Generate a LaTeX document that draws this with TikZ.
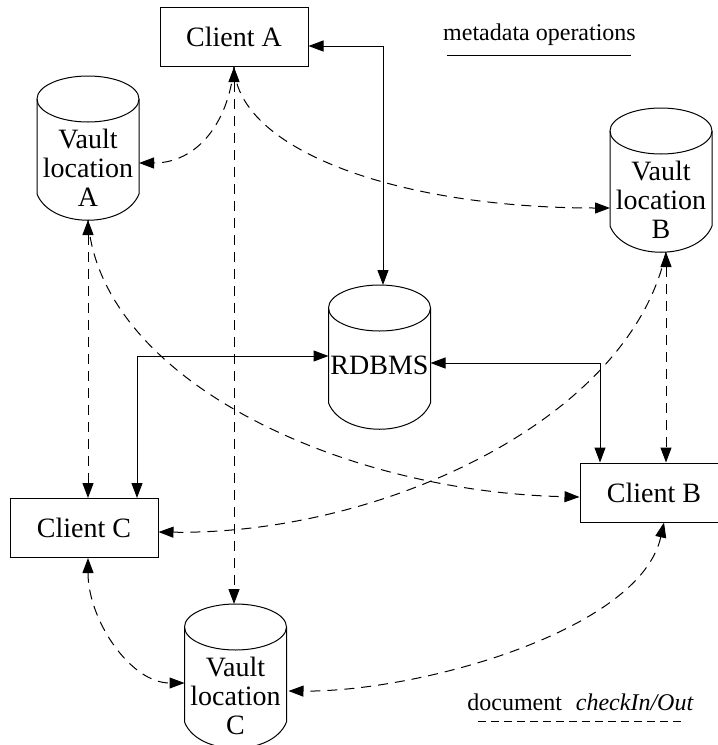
\documentclass[tikz,border=0pt]{standalone}
\usepackage{fontspec}
\setmainfont{Liberation Serif}
\usetikzlibrary{arrows.meta,calc}

\begin{document}
\begin{tikzpicture}[x=0.5pt,y=-0.5pt,
  line width=0.5pt,
  >={Triangle[length=7.5pt,width=5.5pt]},
  client/.style={draw, rectangle, minimum width=74pt, minimum height=29.5pt,
    inner sep=0pt, font=\fontsize{14}{14.5}\selectfont},
  vault/.style={rectangle, minimum width=51pt, minimum height=72pt,
    inner sep=0pt, outer sep=0pt},
  vtext/.style={align=center, inner sep=0pt, font=\fontsize{14}{14.5}\selectfont},
  doc/.style={dash pattern=on 5pt off 3.5pt},
  legend/.style={font=\fontsize{12}{14}\selectfont, inner sep=0pt}]

\useasboundingbox (0,0) rectangle (718,745);
\clip (0,0) rectangle (718,745);

% clients
\node[client] (ca) at (234,37)    {Client A};
\node[client] (cb) at (654,492.5) {Client B};
\node[client] (cc) at (84,528)    {Client C};

% storage (cylinders)
\node[vault] (va) at (88,148)    {};
\node[vault] (vb) at (661,180)   {};
\node[vault] (vc) at (235.5,676) {};
\node[vault] (rd) at (379.5,357) {};

\foreach \n in {va,vb,vc,rd}{
  \draw ($(\n.north)+(0,23)$) ellipse [x radius=25.5pt, y radius=11.5pt];
  \draw ($(\n.north west)+(0,23)$) -- ($(\n.north west)+(0,118)$)
    .. controls ($(\n.north west)+(14,153)$) and ($(\n.north east)+(-14,153)$)
    .. ($(\n.north east)+(0,118)$) -- ($(\n.north east)+(0,23)$);
}

\node[vtext] (va-t) at ($(va)+(0,20)$) {Vault\\location\\A};
\node[vtext] (vb-t) at ($(vb)+(0,20)$) {Vault\\location\\B};
\node[vtext] (vc-t) at ($(vc)+(0,20)$) {Vault\\location\\C};
\node[vtext] (rd-t) at ($(rd)+(0,8)$)  {RDBMS};

% legend
\node[legend] (lgm) at (539.5,35) {metadata operations};
\draw (447,55) -- (631,55);
\node[legend] (lgd) at (580.5,702) {document\hspace{0.58em}\textit{checkIn/Out}};
\draw[dash pattern=on 4pt off 2.5pt] (478,721) -- (682,721);

% metadata operations (solid)
\coordinate (k1) at (383,46);
\coordinate (k2) at (137,356);
\coordinate (k3) at (600,363);
\draw[<->] (ca.east |- k1) -- (k1) -- (k1 |- rd.north);
\draw[<->] (rd.west |- k2) -- (k2) -- (k2 |- cc.north);
\draw[<->] (rd.east |- k3) -- (k3) -- (k3 |- cb.north);

% document check in / out (dashed)
\coordinate (vbs) at ($(vb.south)+(5,0)$);
\coordinate (ccs) at ($(cc.south)+(4,0)$);
\coordinate (cbs) at ($(cb.south)+(10,0)$);

\draw[doc,<->] (ca.south) -- (ca.south |- vc.north);
\draw[doc,<->] (va.south) -- (va.south |- cc.north);
\draw[doc,<->] (vbs) -- (vbs |- cb.north);

\draw[doc,->] (ca.south) .. controls +(-6,59) and +(56,0) .. ($(va.east)+(0,15)$);
\draw[doc,->] (ca.south) .. controls +(4,84) and +(-210,0) .. ($(vb.west)+(0,28)$);
\draw[doc,->] (va.south) .. controls +(12,160) and +(-238,-5) .. ($(cb.west)+(0,4.5)$);
\draw[doc,->] (vbs) .. controls +(-36,168) and +(222,3) .. ($(cc.east)+(0,4)$);
\draw[doc,<->] (ccs) .. controls +(0,62) and +(-54,0) .. ($(vc.west)+(0,7)$);
\draw[doc,<->] (cbs) .. controls +(-24,108) and +(131,1) .. ($(vc.east)+(2,15)$);

\end{tikzpicture}
\end{document}
